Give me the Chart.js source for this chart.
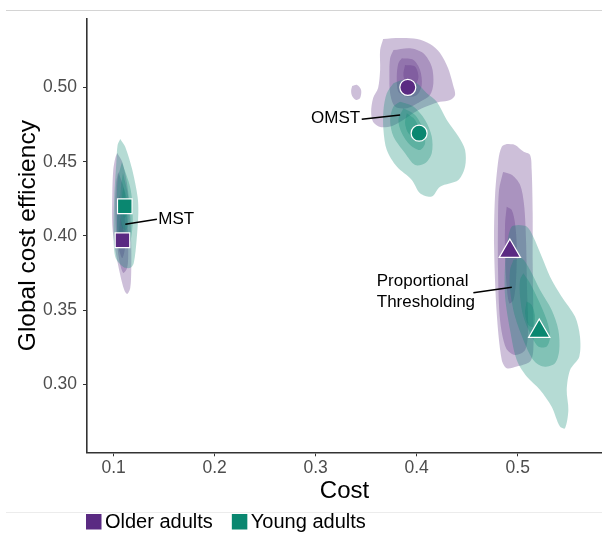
<!DOCTYPE html>
<html>
<head>
<meta charset="utf-8">
<title>Global cost efficiency vs cost</title>
<script src="https://cdn.jsdelivr.net/npm/chart.js@4.4.1/dist/chart.umd.min.js"></script>
<style>
  html, body { margin: 0; padding: 0; background: #fff; }
  #wrap { position: relative; width: 602px; height: 536px; overflow: hidden; }
  .rule { position: absolute; left: 6px; width: 596px; height: 1px; background: #d4d4d4; }
  canvas { position: absolute; left: 0; top: 0; }
</style>
</head>
<body>
<div id="wrap">
  <div class="rule" style="top:10px"></div>
  <div class="rule" style="top:512px; background:#ececec"></div>
  <canvas id="chart" width="602" height="536"></canvas>
</div>
<script>
// Groups and thresholding methods
const groups = ['Older adults', 'Young adults'];
const methods = ['MST', 'OMST', 'Proportional Thresholding'];
const methodShapes = ['rect', 'circle', 'triangle'];

// Axis ticks
const costTicks = [0.1, 0.2, 0.3, 0.4, 0.5];
const costTickLabels = ['0.1', '0.2', '0.3', '0.4', '0.5'];
const efficiencyTicks = [0.30, 0.35, 0.40, 0.45, 0.50];
const efficiencyTickLabels = ['0.30', '0.35', '0.40', '0.45', '0.50'];

// Group means per method (MST, OMST, Proportional Thresholding)
const olderCost = [0.1088, 0.3912, 0.4922];
const olderEfficiency = [0.3971, 0.5001, 0.3897];
const youngCost = [0.1111, 0.4024, 0.5213];
const youngEfficiency = [0.4200, 0.4692, 0.3358];

// 2-D density contour rings, [cost, efficiency], outermost level first
const olderMstRings = [
  [[.1036,.4559],[.1086,.4498],[.1135,.4344],[.1165,.4141],[.1175,.3939],[.1175,.3771],[.1165,.3650],[.1135,.3610],[.1106,.3636],[.1066,.3737],[.1017,.3906],[.0987,.4074],[.0987,.4276],[.0997,.4445],[.1017,.4525]],
  [[.1046,.4431],[.1106,.4310],[.1135,.4108],[.1145,.3906],[.1135,.3785],[.1096,.3751],[.1056,.3838],[.1027,.4007],[.1017,.4209],[.1027,.4364]],
  [[.1056,.4276],[.1106,.4141],[.1116,.3939],[.1086,.3851],[.1046,.3939],[.1036,.4108],[.1046,.4229]],
  [[.1066,.4121],[.1096,.4040],[.1086,.3939],[.1056,.4000]]
];
const youngMstRings = [
  [[.1066,.4653],[.1116,.4599],[.1185,.4445],[.1238,.4263],[.1245,.4155],[.1228,.3973],[.1200,.3818],[.1165,.3785],[.1096,.3791],[.1017,.3858],[.1000,.4040],[.1007,.4263],[.1027,.4492],[.1040,.4613]],
  [[.1083,.4498],[.1170,.4310],[.1190,.4108],[.1170,.3973],[.1133,.3926],[.1050,.3973],[.1034,.4155],[.1040,.4377]],
  [[.1093,.4424],[.1145,.4263],[.1148,.4128],[.1126,.4040],[.1083,.4061],[.1066,.4195],[.1073,.4330]],
  [[.1099,.4330],[.1133,.4242],[.1133,.4155],[.1106,.4121],[.1086,.4195],[.1086,.4276]]
];
const olderOmstRings = [
  [[.3668,.5327],[.3836,.5333],[.4004,.5327],[.4132,.5293],[.4231,.5232],[.4310,.5131],[.4360,.5017],[.4380,.4950],[.4330,.4916],[.4231,.4903],[.4113,.4876],[.3984,.4835],[.3866,.4781],[.3757,.4741],[.3638,.4734],[.3569,.4768],[.3549,.4835],[.3569,.4929],[.3618,.4997],[.3638,.5118],[.3638,.5252]],
  [[.3361,.5010],[.3410,.5017],[.3450,.4983],[.3440,.4929],[.3401,.4916],[.3361,.4943],[.3351,.4976]],
  [[.3770,.5252],[.3935,.5264],[.4066,.5230],[.4149,.5140],[.4165,.5028],[.4132,.4949],[.4033,.4904],[.3902,.4860],[.3786,.4871],[.3737,.4961],[.3730,.5095],[.3737,.5196]],
  [[.3853,.5196],[.3967,.5185],[.4033,.5118],[.4050,.5017],[.4001,.4949],[.3902,.4938],[.3819,.4972],[.3803,.5073],[.3819,.5163]],
  [[.3885,.5151],[.3984,.5140],[.4017,.5073],[.3984,.5017],[.3902,.5017],[.3869,.5084]]
];
const youngOmstRings = [
  [[.3770,.5028],[.3869,.5050],[.4001,.5028],[.4100,.4961],[.4199,.4904],[.4298,.4781],[.4413,.4669],[.4479,.4579],[.4479,.4467],[.4413,.4377],[.4231,.4332],[.4149,.4265],[.4033,.4288],[.3952,.4377],[.3803,.4467],[.3704,.4579],[.3671,.4714],[.3671,.4849],[.3704,.4961]],
  [[.3836,.4904],[.3967,.4871],[.4083,.4781],[.4149,.4669],[.4149,.4557],[.4083,.4489],[.3984,.4478],[.3885,.4557],[.3770,.4669],[.3737,.4781],[.3770,.4871]],
  [[.3869,.4860],[.3984,.4815],[.4066,.4714],[.4083,.4624],[.4033,.4579],[.3935,.4613],[.3853,.4691],[.3819,.4781]],
  [[.3902,.4826],[.3984,.4781],[.4017,.4714],[.3984,.4669],[.3918,.4691],[.3885,.4759]]
];
const olderPtRings = [
  [[.4891,.4619],[.4973,.4613],[.5056,.4568],[.5122,.4545],[.5138,.4445],[.5148,.4153],[.5148,.3816],[.5154,.3480],[.5154,.3232],[.5122,.3154],[.4990,.3120],[.4891,.3109],[.4842,.3165],[.4792,.3480],[.4766,.3928],[.4775,.4265],[.4808,.4512],[.4842,.4601]],
  [[.4855,.4431],[.4944,.4411],[.5023,.4344],[.5063,.4209],[.5082,.3973],[.5092,.3636],[.5102,.3367],[.5073,.3232],[.4973,.3199],[.4884,.3246],[.4825,.3434],[.4805,.3771],[.4805,.4108],[.4815,.4310]],
  [[.4891,.4197],[.4941,.4175],[.4973,.4086],[.4990,.3928],[.4983,.3704],[.4957,.3569],[.4917,.3547],[.4891,.3659],[.4875,.3861],[.4875,.4086]]
];
const youngPtRings = [
  [[.5006,.4074],[.5089,.4063],[.5154,.3995],[.5237,.3861],[.5320,.3726],[.5435,.3591],[.5567,.3457],[.5616,.3322],[.5609,.3187],[.5518,.3098],[.5485,.2963],[.5501,.2828],[.5468,.2705],[.5418,.2716],[.5336,.2850],[.5221,.2963],[.5089,.3053],[.4990,.3165],[.4924,.3367],[.4875,.3591],[.4875,.3816],[.4907,.3995],[.4941,.4063]],
  [[.4957,.3838],[.5040,.3850],[.5122,.3771],[.5221,.3636],[.5336,.3502],[.5402,.3367],[.5411,.3232],[.5369,.3143],[.5253,.3120],[.5154,.3165],[.5056,.3300],[.4973,.3457],[.4924,.3636],[.4924,.3771]],
  [[.5056,.3749],[.5122,.3682],[.5204,.3569],[.5287,.3434],[.5320,.3322],[.5287,.3255],[.5204,.3255],[.5122,.3345],[.5056,.3457],[.5023,.3591],[.5023,.3704]],
  [[.5089,.3558],[.5138,.3535],[.5171,.3457],[.5154,.3389],[.5105,.3401],[.5073,.3480]]
];

// Method labels with leader lines, in data units
const callouts = [
  { lines: ['MST'], at: [0.1442, 0.4114], align: 'left', from: [0.1116, 0.4079], to: [0.1429, 0.4112] },
  { lines: ['OMST'], at: [0.3440, 0.4795], align: 'right', from: [0.3836, 0.4815], to: [0.3456, 0.4786] },
  { lines: ['Proportional', 'Thresholding'], at: [0.3605, 0.3696], align: 'left', from: [0.4941, 0.3655], to: [0.4561, 0.3618] }
];

const FONT = '"Liberation Sans", Arial, Helvetica, sans-serif';
const groupColors = ['#5A2A82', '#0A8770'];
const groupFills = ['rgba(90,42,130,0.30)', 'rgba(10,135,112,0.30)'];

function ringDataset(ring, fillColor, order) {
  const pts = ring.map(p => ({ x: p[0], y: p[1] }));
  pts.push({ x: ring[0][0], y: ring[0][1] });
  return {
    data: pts,
    showLine: true,
    fill: 'shape',
    backgroundColor: fillColor,
    borderWidth: 0,
    borderColor: 'rgba(0,0,0,0)',
    pointRadius: 0,
    pointHoverRadius: 0,
    tension: 0.3,
    order: order
  };
}

const datasets = [];
[olderMstRings, olderOmstRings, olderPtRings].forEach(rings =>
  rings.forEach(r => datasets.push(ringDataset(r, groupFills[0], 3))));
[youngMstRings, youngOmstRings, youngPtRings].forEach(rings =>
  rings.forEach(r => datasets.push(ringDataset(r, groupFills[1], 2))));

function markerDataset(label, costs, effs, color) {
  return {
    label: label,
    data: costs.map((c, i) => ({ x: c, y: effs[i] })),
    pointStyle: methodShapes,
    pointRadius: [10.3, 8, 12.3],
    pointHoverRadius: [10.3, 8, 12.3],
    backgroundColor: color,
    pointBorderColor: '#ffffff',
    pointBorderWidth: 1.2,
    showLine: false,
    order: 0
  };
}
datasets.push(markerDataset(groups[0], olderCost, olderEfficiency, groupColors[0]));
datasets.push(markerDataset(groups[1], youngCost, youngEfficiency, groupColors[1]));

const calloutPlugin = {
  id: 'callouts',
  afterDatasetsDraw(chart) {
    const { ctx } = chart;
    const xs = chart.scales.x, ys = chart.scales.y;
    ctx.save();
    ctx.strokeStyle = '#000';
    ctx.lineWidth = 1.5;
    ctx.fillStyle = '#000';
    ctx.font = '17px ' + FONT;
    ctx.textBaseline = 'middle';
    callouts.forEach(c => {
      ctx.beginPath();
      ctx.moveTo(xs.getPixelForValue(c.from[0]), ys.getPixelForValue(c.from[1]));
      ctx.lineTo(xs.getPixelForValue(c.to[0]), ys.getPixelForValue(c.to[1]));
      ctx.stroke();
      ctx.textAlign = c.align;
      const px = xs.getPixelForValue(c.at[0]);
      const py = ys.getPixelForValue(c.at[1]);
      c.lines.forEach((t, i) => ctx.fillText(t, px, py + i * 21));
    });
    ctx.restore();
  }
};

const legendPlugin = {
  id: 'groupLegend',
  afterDraw(chart) {
    const { ctx } = chart;
    ctx.save();
    ctx.font = '20px ' + FONT;
    ctx.textBaseline = 'middle';
    ctx.textAlign = 'left';
    let x = chart.chartArea.left - 1;
    const top = 514, box = 15.5;
    groups.forEach((g, i) => {
      ctx.fillStyle = groupColors[i];
      ctx.fillRect(x, top, box, box);
      ctx.fillStyle = '#000';
      ctx.fillText(g, x + box + 3.5, top + box / 2 + 0.5);
      x += box + 3.5 + ctx.measureText(g).width + 19;
    });
    ctx.restore();
  }
};

new Chart(document.getElementById('chart'), {
  type: 'scatter',
  data: { datasets: datasets },
  options: {
    responsive: false,
    animation: false,
    events: [],
    layout: { autoPadding: false, padding: { top: 19, right: 0, bottom: 30.2, left: 0 } },
    plugins: { legend: { display: false }, tooltip: { enabled: false } },
    scales: {
      x: {
        type: 'linear',
        min: 0.0737,
        max: 0.5834,
        afterFit(s) { s.height = 53.5; },
        afterBuildTicks(s) { s.ticks = costTicks.map(v => ({ value: v })); },
        ticks: {
          callback: (v) => costTickLabels[costTicks.indexOf(v)],
          font: { family: FONT, size: 17.5 },
          color: '#4D4D4D',
          padding: 1,
          maxRotation: 0
        },
        grid: { display: true, drawOnChartArea: false, drawTicks: true, tickLength: 4, color: '#333333', lineWidth: 1 },
        border: { display: true, color: '#333333', width: 1.6 },
        title: { display: true, text: 'Cost', font: { family: FONT, size: 24 }, color: '#000', padding: 0 }
      },
      y: {
        type: 'linear',
        min: 0.2543,
        max: 0.5461,
        afterFit(s) { s.width = 87; },
        afterBuildTicks(s) { s.ticks = efficiencyTicks.map(v => ({ value: v })); },
        ticks: {
          callback: (v) => efficiencyTickLabels[efficiencyTicks.indexOf(v)],
          font: { family: FONT, size: 17.5 },
          color: '#4D4D4D',
          padding: 6
        },
        grid: { display: true, drawOnChartArea: false, drawTicks: true, tickLength: 4, color: '#333333', lineWidth: 1 },
        border: { display: true, color: '#333333', width: 1.6 },
        title: { display: true, text: 'Global cost efficiency', font: { family: FONT, size: 24.5 }, color: '#000', padding: { top: 13.4, bottom: 0 } }
      }
    }
  },
  plugins: [calloutPlugin, legendPlugin]
});
</script>
</body>
</html>
